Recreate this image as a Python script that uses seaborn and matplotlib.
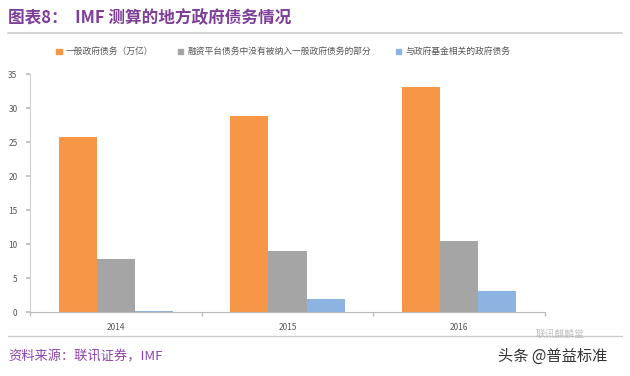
import matplotlib
matplotlib.use("Agg")
import matplotlib.pyplot as plt
import seaborn as sns
import pandas as pd
from matplotlib.patches import Patch
from matplotlib.lines import Line2D

years = ["2014", "2015", "2016"]
series_names = ["一般政府债务（万亿）", "融资平台债务中没有被纳入一般政府债务的部分", "与政府基金相关的政府债务"]
general_debt = [25.8, 28.8, 33.1]
platform_debt = [7.8, 9.0, 10.4]
fund_debt = [0.2, 1.9, 3.1]
yticks = [0, 5, 10, 15, 20, 25, 30, 35]
colors = ["#F79646", "#A5A5A5", "#8DB3E2"]

sns.set_theme(style="white")
plt.rcParams['font.family'] = ['Noto Sans CJK SC', 'DejaVu Sans']

rows = []
for name, vals in zip(series_names, [general_debt, platform_debt, fund_debt]):
    for y, v in zip(years, vals):
        rows.append({"year": y, "series": name, "value": v})
df = pd.DataFrame(rows)

fig = plt.figure(figsize=(6.3, 3.76), dpi=100)
ax = fig.add_axes([0.0476, 0.170, 0.8175, 0.633])
sns.barplot(data=df, x="year", y="value", hue="series", hue_order=series_names,
            palette=colors, width=0.665, saturation=1, ax=ax, legend=False,
            linewidth=0, edgecolor="none")

ax.set_ylim(0, 35)
ax.set_xlim(-0.5, 2.5)
ax.set_yticks(yticks)
ax.set_yticklabels([str(t) for t in yticks], fontsize=6, color="#555555")
ax.set_xticks(range(len(years)))
ax.set_xticklabels(years, fontsize=6, color="#555555")
ax.set_xticks([-0.5, 0.5, 1.5, 2.5], minor=True)
ax.tick_params(axis="x", which="major", length=0, pad=8)
ax.tick_params(axis="x", which="minor", length=3, color="#BBBBBB", direction="out", bottom=True)
ax.tick_params(axis="y", length=3, color="#BBBBBB", direction="out", left=True, pad=6)
ax.set_xlabel("")
ax.set_ylabel("")
for s in ["top", "right"]:
    ax.spines[s].set_visible(False)
ax.spines["left"].set_color("#D0D0D0")
ax.spines["bottom"].set_color("#BBBBBB")
ax.spines["left"].set_linewidth(0.8)
ax.spines["bottom"].set_linewidth(0.8)

handles = [Patch(facecolor=c, edgecolor=c) for c in colors]
fig.legend(handles, series_names, loc="center", bbox_to_anchor=(0.45, 0.862), ncol=3,
           frameon=False, fontsize=6.3, handlelength=0.6, handleheight=0.6,
           handletextpad=0.5, columnspacing=2.8, labelcolor="#555555")

fig.text(0.013, 0.952, "图表8：  IMF 测算的地方政府债务情况", fontsize=12, fontweight="bold",
         color="#7E3F98", va="center", ha="left")
fig.add_artist(Line2D([0.013, 0.987], [0.912, 0.912], color="#CCCCCC", lw=1.2))
fig.add_artist(Line2D([0.013, 0.987], [0.106, 0.106], color="#CCCCCC", lw=1.0))
fig.text(0.013, 0.050, "资料来源：联讯证券，IMF", fontsize=9.5, style="italic",
         color="#8E44AD", va="center", ha="left")
fig.text(0.850, 0.112, "联讯麒麟堂", fontsize=7, color="#999999", alpha=0.6,
         va="center", ha="left")
fig.text(0.790, 0.052, "头条 @普益标准", fontsize=11, color="#333333",
         va="center", ha="left")

fig.savefig("out.png", dpi=100)
